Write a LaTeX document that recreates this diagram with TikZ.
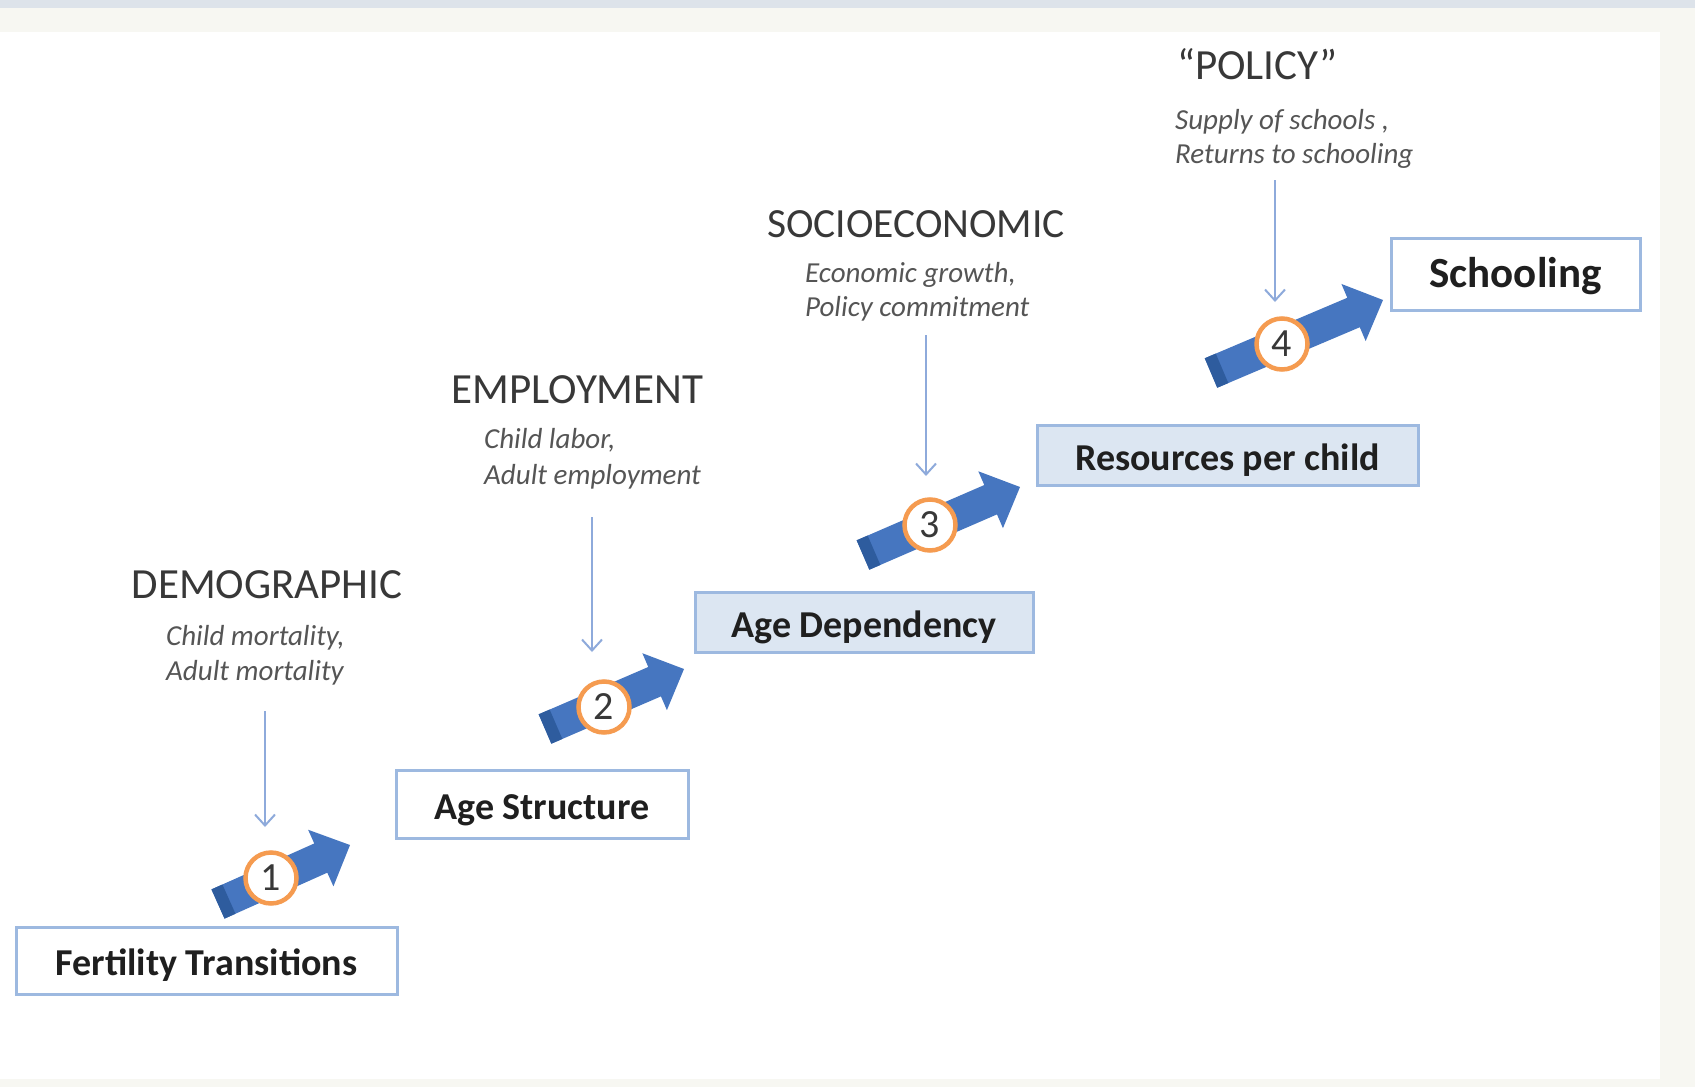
\documentclass[tikz,border=0pt]{standalone}
\usepackage{fontspec}
\setmainfont{Carlito}
\usetikzlibrary{calc,arrows.meta}
\definecolor{bgc}{HTML}{F7F7F2}
\definecolor{topc}{HTML}{DDE3EA}
\definecolor{boxline}{HTML}{9DB9E0}
\definecolor{boxfill}{HTML}{DCE6F2}
\definecolor{headc}{HTML}{383838}
\definecolor{subc}{HTML}{555555}
\definecolor{boxtext}{HTML}{1F1F1F}
\definecolor{downc}{HTML}{8EAADB}
\definecolor{ablue}{HTML}{4676C0}
\definecolor{adark}{HTML}{2E5C9E}
\definecolor{orc}{HTML}{F59B50}
\newcommand{\barrowdraw}[2]{%
  \coordinate (bC) at ($(#2)!32pt!(#1)$);
  \coordinate (bD) at ($(#1)!12pt!(#2)$);
  \fill[ablue] ($(#1)!16pt!90:(#2)$) -- ($(bC)!16pt!90:(#2)$) -- ($(bC)!31pt!90:(#2)$)
     -- (#2) -- ($(bC)!31pt!-90:(#2)$) -- ($(bC)!16pt!-90:(#2)$) -- ($(#1)!16pt!-90:(#2)$) -- cycle;
  \fill[adark] ($(#1)!16pt!90:(#2)$) -- ($(bD)!16pt!90:(#2)$) -- ($(bD)!16pt!-90:(#2)$)
     -- ($(#1)!16pt!-90:(#2)$) -- cycle;
}
\tikzset{
  box/.style={draw=boxline, line width=3pt, fill=white, inner sep=0pt, text=boxtext,
     text height=30pt, text depth=0pt,
     font=\fontsize{38}{40}\selectfont\bfseries},
  fbox/.style={box, fill=boxfill},
  head/.style={inner sep=0pt, text=headc, font=\fontsize{43}{45}\selectfont},
  sub/.style={inner sep=0pt, text=subc, font=\fontsize{29}{31}\selectfont\itshape},
  down/.style={draw=downc, line width=2pt, -{Straight Barb[length=11pt,width=20pt,line width=2pt]}},
  numc/.style={circle, draw=orc, line width=4.5pt, fill=white, minimum size=51pt, inner sep=0pt,
     text=headc, font=\fontsize{40}{42}\selectfont}
}
\begin{document}
\begin{tikzpicture}[x=1pt,y=-1pt]
\useasboundingbox (0,0) rectangle (1695,1087);
\fill[bgc] (0,0) rectangle (1695,1087);
\fill[topc] (0,0) rectangle (1695,8);
\fill[white] (0,32) rectangle (1660,1079);

% boxes
\node[box, minimum width=381pt, minimum height=67pt] (fert) at (206.5,960.5) {Fertility Transitions};
\node[box, minimum width=292pt, minimum height=68pt] (agestr) at (542,804) {Age Structure};
\node[fbox, minimum width=338pt, minimum height=60pt] (agedep) at (864,622) {Age Dependency};
\node[fbox, minimum width=381pt, minimum height=60pt] (res) at (1227.5,455) {Resources per child};
\node[box, minimum width=249pt, minimum height=72pt, text height=27pt,
      font=\fontsize{43}{45}\selectfont\bfseries] (school) at (1515.5,274) {Schooling};

% headings
\node[head, anchor=base] (hdemo) at (267,598) {DEMOGRAPHIC};
\node[sub, anchor=base west] (sdemo1) at (166,645) {Child mortality,};
\node[sub, anchor=base west] (sdemo2) at (166,680) {Adult mortality};

\node[head, anchor=base] (hemp) at (577.5,403) {EMPLOYMENT};
\node[sub, anchor=base west] (semp1) at (484,448) {Child labor,};
\node[sub, anchor=base west] (semp2) at (484,484) {Adult employment};

\node[head, anchor=base, font=\fontsize{41.5}{44}\selectfont] (hsoc) at (916,237) {SOCIOECONOMIC};
\node[sub, anchor=base west] (ssoc1) at (805,282) {Economic growth,};
\node[sub, anchor=base west] (ssoc2) at (805,316) {Policy commitment};

\node[head, anchor=base west] (hpol) at (1177,79) {“POLICY”};
\node[sub, anchor=base west] (spol1) at (1175,129) {Supply of schools ,};
\node[sub, anchor=base west] (spol2) at (1175,163) {Returns to schooling};

% down arrows
\coordinate (d1s) at (265,711); \coordinate (d1e) at (265,827);
\coordinate (d2s) at (592,517); \coordinate (d2e) at (592,652);
\coordinate (d3s) at (926,335); \coordinate (d3e) at (926,476);
\coordinate (d4s) at (1275,180); \coordinate (d4e) at (1275,302);
\draw[down] (d1s) -- (d1e);
\draw[down] (d2s) -- (d2e);
\draw[down] (d3s) -- (d3e);
\draw[down] (d4s) -- (d4e);

% block arrows
\coordinate (a1t) at (218,904); \coordinate (a1h) at (350,845);
\coordinate (a2t) at (545,729); \coordinate (a2h) at (684,669);
\coordinate (a3t) at (863,555); \coordinate (a3h) at (1020,487);
\coordinate (a4t) at (1211,373); \coordinate (a4h) at (1383,300);
\barrowdraw{a1t}{a1h}
\barrowdraw{a2t}{a2h}
\barrowdraw{a3t}{a3h}
\barrowdraw{a4t}{a4h}

% numbers
\node[numc] (n1) at (271,878) {1};
\node[numc] (n2) at (604,707) {2};
\node[numc] (n3) at (930,525) {3};
\node[numc] (n4) at (1282,344) {4};
\end{tikzpicture}
\end{document}
